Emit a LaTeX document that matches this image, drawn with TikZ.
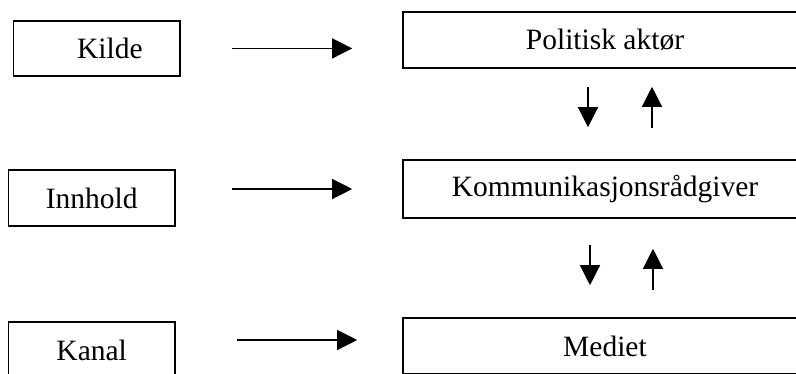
\documentclass[tikz,border=0pt]{standalone}
\usepackage{fontspec}
\setmainfont{Liberation Serif}
\usetikzlibrary{calc}
\usetikzlibrary{arrows.meta}

\begin{document}
\begin{tikzpicture}[x=1pt,y=-1pt,
  boks/.style={draw,line width=1.6pt,inner sep=0pt,
    font=\fontsize{29.5}{34}\selectfont},
  venstre/.style={boks,minimum width=166.5pt,minimum height=56pt},
  hoyre/.style={boks,minimum width=404pt,minimum height=56pt},
  pil/.style={line width=1.3pt,-{Triangle[length=20pt,width=20pt]}}]
\useasboundingbox (0,0) rectangle (796,373);

\node[venstre,minimum height=55.3pt] (kilde) at (96.9,48.4) {\hspace*{26pt}Kilde};
\node[venstre] (innhold) at (91.7,198) {Innhold};
\node[venstre] (kanal) at (91.7,350) {Kanal};

\node[hoyre] (aktor) at (605,40) {Politisk aktør};
\node[hoyre,minimum height=58pt] (radgiver) at (605,189) {Kommunikasjonsrådgiver};
\node[hoyre] (mediet) at (605,346) {Mediet};

\draw[pil,shorten <=51pt,shorten >=50pt]  (kilde.east)  --%
      (kilde.east -| aktor.west);
\draw[pil,shorten <=56pt,shorten >=50pt]  (radgiver.west -| innhold.east)  --%
      (radgiver.west);
\draw[pil,shorten <=61pt,shorten >=45pt]  ([yshift=10pt]kanal.east)  --%
      ([yshift=10pt]kanal.east -| mediet.west);

\draw[pil,shorten <=18pt,shorten >=32pt]  ([xshift=-17pt]aktor.south)  --%
      ([xshift=-17pt]radgiver.north);
\draw[pil,shorten <=31pt,shorten >=18pt]  ([xshift=47pt]radgiver.north)  --%
      ([xshift=47pt]aktor.south);
\draw[pil,shorten <=26pt,shorten >=32pt]  ([xshift=-15pt]radgiver.south)  --%
      ([xshift=-15pt]mediet.north);
\draw[pil,shorten <=27pt,shorten >=30pt]  ([xshift=48pt]mediet.north)  --%
      ([xshift=48pt]radgiver.south);

\end{tikzpicture}
\end{document}
